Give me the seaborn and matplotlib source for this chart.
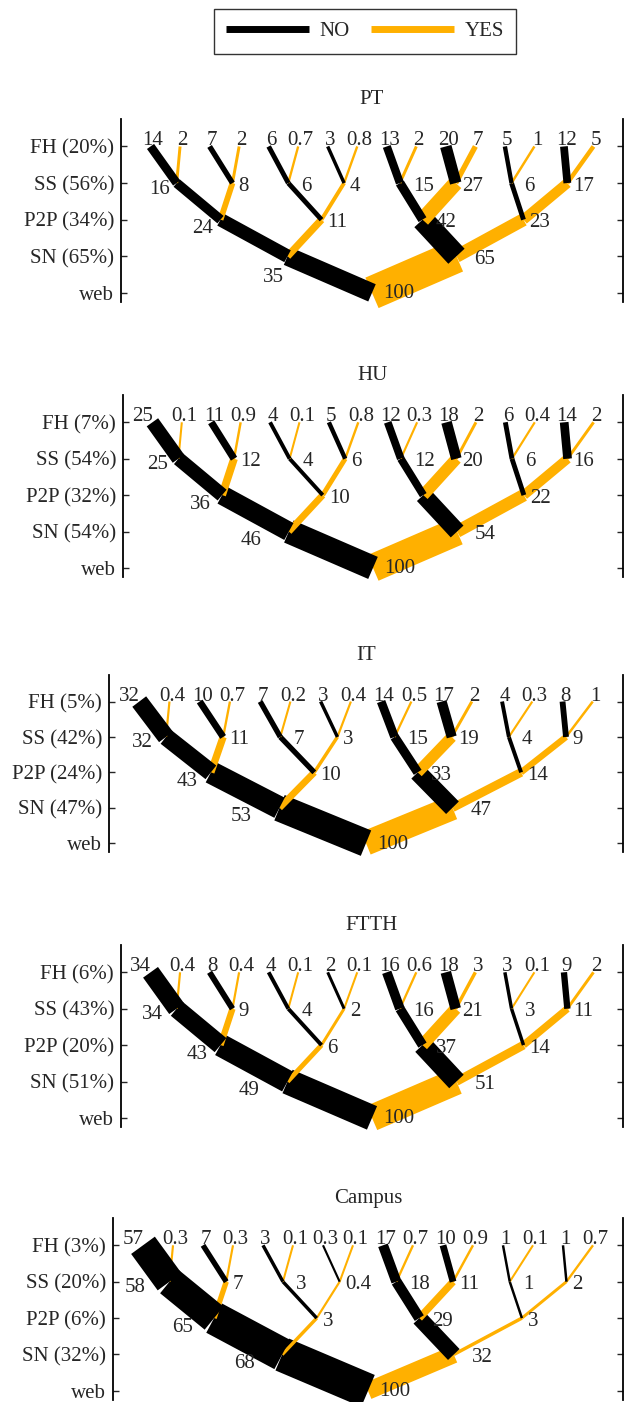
import matplotlib
matplotlib.use('Agg')
import numpy as np
import pandas as pd
import matplotlib.pyplot as plt
from matplotlib.lines import Line2D
import seaborn as sns

# node shares (%) per level, children ordered NO, YES under each parent
pt_sn = [35, 65]
pt_p2p = [24, 11, 42, 23]
pt_ss = [16, 8, 6, 4, 15, 27, 6, 17]
pt_fh = [14, 2, 7, 2, 6, 0.7, 3, 0.8, 13, 2, 20, 7, 5, 1, 12, 5]
pt_ticks = ['web', 'SN (65%)', 'P2P (34%)', 'SS (56%)', 'FH (20%)']

hu_sn = [46, 54]
hu_p2p = [36, 10, 32, 22]
hu_ss = [25, 12, 4, 6, 12, 20, 6, 16]
hu_fh = [25, 0.1, 11, 0.9, 4, 0.1, 5, 0.8, 12, 0.3, 18, 2, 6, 0.4, 14, 2]
hu_ticks = ['web', 'SN (54%)', 'P2P (32%)', 'SS (54%)', 'FH (7%)']

it_sn = [53, 47]
it_p2p = [43, 10, 33, 14]
it_ss = [32, 11, 7, 3, 15, 19, 4, 9]
it_fh = [32, 0.4, 10, 0.7, 7, 0.2, 3, 0.4, 14, 0.5, 17, 2, 4, 0.3, 8, 1]
it_ticks = ['web', 'SN (47%)', 'P2P (24%)', 'SS (42%)', 'FH (5%)']

ftth_sn = [49, 51]
ftth_p2p = [43, 6, 37, 14]
ftth_ss = [34, 9, 4, 2, 16, 21, 3, 11]
ftth_fh = [34, 0.4, 8, 0.4, 4, 0.1, 2, 0.1, 16, 0.6, 18, 3, 3, 0.1, 9, 2]
ftth_ticks = ['web', 'SN (51%)', 'P2P (20%)', 'SS (43%)', 'FH (6%)']

campus_sn = [68, 32]
campus_p2p = [65, 3, 29, 3]
campus_ss = [58, 7, 3, 0.4, 18, 11, 1, 2]
campus_fh = [57, 0.3, 7, 0.3, 3, 0.1, 0.3, 0.1, 17, 0.7, 10, 0.9, 1, 0.1, 1, 0.7]
campus_ticks = ['web', 'SN (32%)', 'P2P (6%)', 'SS (20%)', 'FH (3%)']

panels = [
    ('PT', [pt_sn, pt_p2p, pt_ss, pt_fh], pt_ticks),
    ('HU', [hu_sn, hu_p2p, hu_ss, hu_fh], hu_ticks),
    ('IT', [it_sn, it_p2p, it_ss, it_fh], it_ticks),
    ('FTTH', [ftth_sn, ftth_p2p, ftth_ss, ftth_fh], ftth_ticks),
    ('Campus', [campus_sn, campus_p2p, campus_ss, campus_fh], campus_ticks),
]
# labels not printed in the original (hidden under the bars)
hidden = {('HU', 2, 2)}
# hand nudges (px) for a few labels
nudge = {('PT', 1, 0): (24, 12)}

# axes boxes in pixels: left, top, bottom (right edge shared)
boxes = {'PT': (121, 119, 302), 'HU': (123, 395, 577), 'IT': (109, 675, 852),
         'FTTH': (121, 945, 1127), 'Campus': (113, 1218, 1400)}
RIGHT = 623
W, H = 624, 1402

ORANGE = '#FFB000'
palette = {'NO': 'black', 'YES': ORANGE}
spread = [0, 5.72, 3.42, 1.89, 1.0]  # node spacing per level
CENTER = 7.5
FS = 15
A, B = 0.48, 2.0  # bar width in px = A*value + B


def node_x(k, j):
    n = 2 ** k
    return CENTER + (j - (n - 1) / 2) * spread[k]


def width_px(v):
    return A * v + B


sns.set_style('ticks')
plt.rcParams['font.family'] = ['Liberation Serif', 'DejaVu Serif']
plt.rcParams['lines.solid_capstyle'] = 'butt'

fig = plt.figure(figsize=(W / 100, H / 100), dpi=100)
PX = 0.72  # px -> points

for name, vals, ticks in panels:
    left, top, bottom = boxes[name]
    ax = fig.add_axes([left / W, 1 - bottom / H, (RIGHT - left) / W, (bottom - top) / H])

    for k in range(1, 5):
        for ans in ['YES', 'NO']:
            rows = []
            for j, v in enumerate(vals[k - 1]):
                a = 'NO' if j % 2 == 0 else 'YES'
                if a != ans:
                    continue
                rows.append(dict(seg=j, x=node_x(k - 1, j // 2), y=k - 1, ans=a, val=v))
                rows.append(dict(seg=j, x=node_x(k, j), y=k, ans=a, val=v))
            df = pd.DataFrame(rows)
            sns.lineplot(data=df, x='x', y='y', units='seg', estimator=None, sort=False,
                         hue='ans', palette=palette,
                         size='val', sizes=(B * PX, (A * 100 + B) * PX), size_norm=(0, 100),
                         legend=False, ax=ax, clip_on=False, solid_capstyle='butt')

    # labels
    ax.annotate('100', (CENTER, 0), xytext=(11.5 * PX, -1 * PX), textcoords='offset points',
                ha='left', va='center', fontsize=FS)
    for k in range(1, 5):
        for j, v in enumerate(vals[k - 1]):
            if (name, k, j) in hidden:
                continue
            x, w = node_x(k, j), width_px(v)
            txt = f'{v:g}'
            if k == 4:
                dx = -10 if (j == 0 and v >= 20) else 2.5
                ax.annotate(txt, (x, k), xytext=(dx * PX, 1 * PX), textcoords='offset points',
                            ha='center', va='baseline', fontsize=FS)
                continue
            if j == 0:
                # labels along the all-NO branch sit below-left of the node
                if k == 3:
                    dx, dy = -(0.85 * w + 9), -6
                elif k == 2:
                    dx, dy = -(0.7 * w + 8), -9
                else:
                    dx, dy = -38, -9
                ha = 'center'
            else:
                if j % 2 == 1:
                    dx = 18 if k == 1 else 6
                else:
                    dx = 13
                dy, ha = -3, 'left'
            nx, ny = nudge.get((name, k, j), (0, 0))
            ax.annotate(txt, (x, k), xytext=((dx + nx) * PX, (dy - ny) * PX),
                        textcoords='offset points', ha=ha, va='center', fontsize=FS)

    ax.set_xlim(-1, 16)
    ax.set_ylim(-0.25, 4.75)
    ax.set_yticks(range(5))
    ax.set_yticklabels(ticks, fontsize=FS)
    ax.set_xticks([])
    ax.set_xlabel('')
    ax.set_ylabel('')
    ax.tick_params(axis='y', direction='in', length=4, width=1, left=True, right=True,
                   labelleft=True, labelright=False, pad=5)
    for s in ['top', 'bottom']:
        ax.spines[s].set_visible(False)
    for s in ['left', 'right']:
        ax.spines[s].set_linewidth(1.3)
        ax.spines[s].set_color('black')
    ax.set_title(name, fontsize=FS, pad=11)

handles = [Line2D([], [], color='black', lw=5), Line2D([], [], color=ORANGE, lw=5)]
leg = fig.legend(handles, ['NO', 'YES'], loc='center', bbox_to_anchor=(365 / W, 1 - 31.5 / H),
                 ncol=2, frameon=True, fancybox=False, edgecolor='black', fontsize=FS,
                 handlelength=4.0, columnspacing=1.0, handletextpad=0.5, borderpad=0.6)
leg.get_frame().set_linewidth(1.0)

fig.savefig('out.png', dpi=100)
